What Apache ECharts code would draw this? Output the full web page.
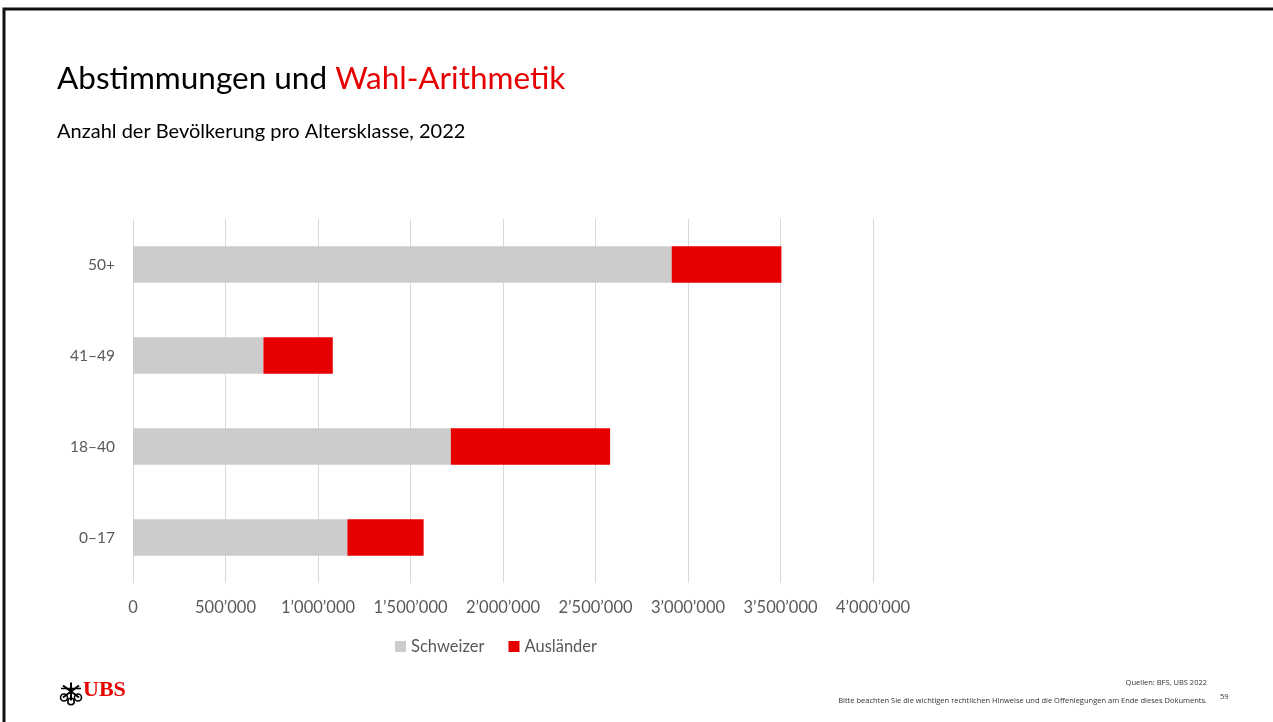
<!DOCTYPE html>
<html>
<head>
<meta charset="utf-8">
<script src="https://cdn.jsdelivr.net/npm/echarts@6/dist/echarts.min.js"></script>
<style>
html,body{margin:0;padding:0;background:#fff;}
#chart{width:1273px;height:722px;}
</style>
</head>
<body>
<div id="chart"></div>
<script>
const categories = ['0–17', '18–40', '41–49', '50+'];
const schweizer = [1159000, 1718000, 705000, 2912000];
const auslaender = [412000, 861000, 375000, 593000];
const seriesNames = ['Schweizer', 'Ausländer'];
const xTicks = { min: 0, max: 4000000, interval: 500000 };

function fmt(v) {
  return String(Math.round(v)).replace(/\B(?=(\d{3})+(?!\d))/g, '\u2019');
}

const chart = echarts.init(document.getElementById('chart'), null, { renderer: 'canvas' });
const FONT = 'Lato, "Open Sans", sans-serif';

chart.setOption({
  backgroundColor: '#ffffff',
  animation: false,
  textStyle: { fontFamily: FONT },
  grid: { left: 133, right: 400, top: 219, bottom: 139, containLabel: false },
  legend: {
    data: seriesNames,
    left: 390, top: 633,
    itemWidth: 11, itemHeight: 11, itemGap: 24,
    icon: 'rect',
    textStyle: { fontFamily: FONT, fontSize: 16.5, color: '#595959' }
  },
  xAxis: {
    type: 'value',
    min: xTicks.min, max: xTicks.max, interval: xTicks.interval,
    axisLine: { show: false },
    axisTick: { show: false },
    splitLine: { show: true, lineStyle: { color: '#d9d9d9', width: 1 } },
    axisLabel: { formatter: fmt, color: '#595959', fontSize: 16.5, margin: 16, fontFamily: FONT }
  },
  yAxis: {
    type: 'category',
    data: categories,
    axisLine: { show: false },
    axisTick: { show: false },
    axisLabel: { color: '#595959', fontSize: 15.5, margin: 18, fontFamily: FONT }
  },
  series: [
    {
      name: seriesNames[0], type: 'bar', stack: 'total', data: schweizer,
      barWidth: '40%',
      itemStyle: { color: '#cccccc' }
    },
    {
      name: seriesNames[1], type: 'bar', stack: 'total', data: auslaender,
      barWidth: '40%',
      itemStyle: { color: '#e60000' }
    }
  ],
  graphic: [
    { type: 'rect', shape: { x: 4, y: 9, width: 1400, height: 900 }, style: { fill: 'none', stroke: '#111', lineWidth: 3 }, silent: true },
    {
      type: 'text', left: 57, top: 63,
      style: {
        text: '{a|Abstimmungen und }{b|Wahl-Arithmetik}',
        rich: {
          a: { fontFamily: FONT, fontSize: 31.5, fill: '#000' },
          b: { fontFamily: FONT, fontSize: 31.5, fill: '#e60000' }
        }
      }
    },
    { type: 'text', left: 57, top: 122, style: { text: 'Anzahl der Bevölkerung pro Altersklasse, 2022', fontFamily: FONT, fontSize: 20, fill: '#000' } },
    // UBS logo emblem (approximation)
    {
      type: 'group', left: 58, top: 680,
      children: [
        { type: 'line', shape: { x1: 11, y1: 0, x2: 11, y2: 18 }, style: { stroke: '#000', lineWidth: 2 } },
        { type: 'line', shape: { x1: 3, y1: 3, x2: 19, y2: 15 }, style: { stroke: '#000', lineWidth: 2 } },
        { type: 'line', shape: { x1: 19, y1: 3, x2: 3, y2: 15 }, style: { stroke: '#000', lineWidth: 2 } },
        { type: 'line', shape: { x1: 1, y1: 6, x2: 21, y2: 6 }, style: { stroke: '#000', lineWidth: 1.5 } },
        { type: 'circle', shape: { cx: 4, cy: 15, r: 3.5 }, style: { fill: 'none', stroke: '#000', lineWidth: 1.6 } },
        { type: 'circle', shape: { cx: 18, cy: 15, r: 3.5 }, style: { fill: 'none', stroke: '#000', lineWidth: 1.6 } },
        { type: 'circle', shape: { cx: 11, cy: 19, r: 3.2 }, style: { fill: 'none', stroke: '#000', lineWidth: 1.6 } }
      ]
    },
    { type: 'text', left: 83, top: 679, style: { text: 'UBS', fontFamily: '"Liberation Serif", serif', fontWeight: 'bold', fontSize: 22, fill: '#e60000' } },
    { type: 'text', right: 66, top: 679, style: { text: 'Quellen: BFS, UBS 2022', fontFamily: '"Open Sans", sans-serif', fontSize: 7.5, fill: '#333', align: 'right' } },
    { type: 'text', right: 66, top: 697, style: { text: 'Bitte beachten Sie die wichtigen rechtlichen Hinweise und die Offenlegungen am Ende dieses Dokuments.', fontFamily: '"Open Sans", sans-serif', fontSize: 7.5, fill: '#333', align: 'right' } },
    { type: 'text', left: 1220, top: 693, style: { text: '59', fontFamily: '"Open Sans", sans-serif', fontSize: 7.5, fill: '#333' } }
  ]
});
</script>
</body>
</html>
